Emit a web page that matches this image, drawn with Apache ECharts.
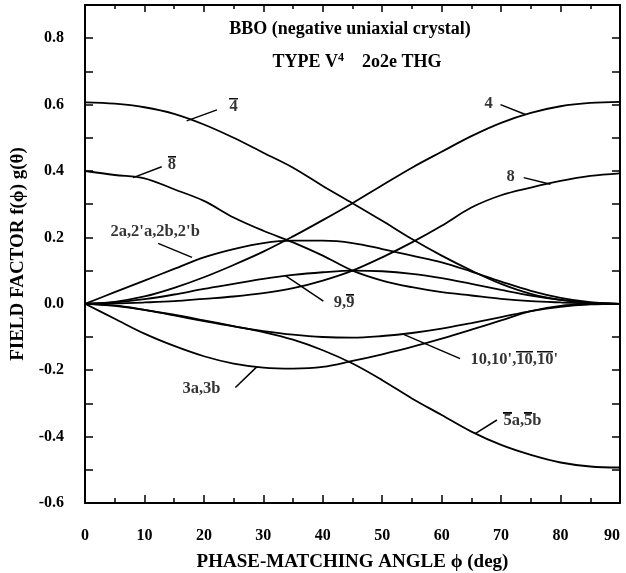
<!DOCTYPE html>
<html lang="en">
<head>
    <meta charset="UTF-8">
    <title>BBO field factor</title>
    <script src="https://cdn.jsdelivr.net/npm/echarts@6/dist/echarts.min.js"></script>
    <style>
        * {padding: 0; margin: 0;}
        body {background: #fff;}
        #main {width: 626px; height: 573px;}
    </style>
</head>
<body>
    <div id="main"></div>
    <script>
        const FONT = "'Liberation Serif', 'Times New Roman', serif";

        // phase-matching angle (deg)
        const phi = [0, 5, 10, 15, 20, 25, 30, 35, 40, 45, 50, 55, 60, 65, 70, 75, 80, 85, 90];

        // field factors
        const f4     = [0, 0.006, 0.022, 0.048, 0.08, 0.117, 0.157, 0.203, 0.252, 0.303, 0.357, 0.41, 0.458, 0.505, 0.545, 0.575, 0.595, 0.605, 0.608];
        const f4bar  = [0.607, 0.603, 0.592, 0.572, 0.54, 0.5, 0.455, 0.41, 0.355, 0.303, 0.25, 0.195, 0.145, 0.1, 0.06, 0.03, 0.012, 0.003, 0];
        const f8     = [0, 0.001, 0.004, 0.008, 0.015, 0.022, 0.032, 0.047, 0.07, 0.1, 0.14, 0.185, 0.235, 0.29, 0.327, 0.35, 0.37, 0.385, 0.393];
        const f8bar  = [0.4, 0.388, 0.378, 0.345, 0.31, 0.26, 0.22, 0.185, 0.145, 0.1, 0.07, 0.05, 0.035, 0.025, 0.015, 0.008, 0.004, 0.001, 0];
        const f2a    = [0, 0.035, 0.07, 0.105, 0.14, 0.165, 0.183, 0.19, 0.19, 0.183, 0.165, 0.145, 0.125, 0.097, 0.067, 0.039, 0.018, 0.005, 0];
        const f9     = [0, 0.004, 0.014, 0.028, 0.045, 0.06, 0.075, 0.087, 0.095, 0.1, 0.098, 0.09, 0.077, 0.06, 0.042, 0.025, 0.012, 0.003, 0];
        const f10    = [0, -0.006, -0.018, -0.035, -0.052, -0.068, -0.082, -0.093, -0.1, -0.102, -0.097, -0.088, -0.075, -0.058, -0.04, -0.022, -0.009, -0.002, 0];
        const f3a    = [0, -0.045, -0.09, -0.127, -0.158, -0.18, -0.192, -0.195, -0.19, -0.172, -0.152, -0.13, -0.105, -0.078, -0.05, -0.022, -0.006, -0.001, 0];
        const f5bar  = [0, -0.005, -0.018, -0.033, -0.05, -0.067, -0.085, -0.108, -0.14, -0.18, -0.23, -0.285, -0.335, -0.385, -0.425, -0.455, -0.478, -0.49, -0.493];

        const curves = [f4, f4bar, f8, f8bar, f2a, f9, f10, f3a, f5bar];

        // curve labels ({o|..} = overlined), label position, leader start (on curve), leader end
        const labelText = ['{o|4}', '{o|8}', '2a,2\'a,2b,2\'b', '4', '8', '9,{o|9}', '10,10\',{o|10},{o|10}\'', '3a,3b', '{o|5}a,{o|5}b'];
        const labelAt   = [[25, 0.595], [14.6, 0.42], [11.8, 0.218], [67.9, 0.604], [71.6, 0.383], [43.6, 0.004], [72.2, -0.167], [19.6, -0.255], [73.6, -0.352]];
        const leadFrom  = [[17.1, 0.551], [8.1, 0.38], [18, 0.14], [74.1, 0.57], [78.3, 0.36], [33.7, 0.085], [53.3, -0.09], [28.9, -0.19], [65.7, -0.39]];
        const leadTo    = [[22.2, 0.584], [12.9, 0.413], [12.3, 0.182], [69.9, 0.6], [73.8, 0.38], [40.1, 0.008], [63.1, -0.165], [25.3, -0.252], [69.3, -0.35]];

        // bar drawn above overlined characters (used as a stretched text background)
        const bar = document.createElement('canvas');
        bar.width = 8; bar.height = 19;
        const bctx = bar.getContext('2d');
        bctx.fillStyle = '#000';
        bctx.fillRect(0, 0, 8, 1.8);

        const chart = echarts.init(document.getElementById('main'));

        const labelFont = {fontFamily: FONT, fontWeight: 'bold', fontSize: 16.5, color: '#000', lineHeight: 19};

        const series = [];
        curves.forEach(function (c) {
            series.push({
                type: 'line',
                data: phi.map(function (p, i) { return [p, c[i]]; }),
                smooth: 0.35,
                showSymbol: false,
                silent: true,
                lineStyle: {color: '#000', width: 1.8}
            });
        });
        leadFrom.forEach(function (a, i) {
            series.push({
                type: 'line',
                data: [a, leadTo[i]],
                showSymbol: false,
                silent: true,
                lineStyle: {color: '#000', width: 1.5}
            });
        });
        series.push({
            type: 'scatter',
            symbolSize: 1,
            silent: true,
            itemStyle: {color: 'rgba(0,0,0,0)'},
            data: labelAt.map(function (p, i) { return {value: p, name: labelText[i]}; }),
            label: Object.assign({
                show: true,
                position: 'inside',
                formatter: '{b}',
                rich: {
                    o: Object.assign({backgroundColor: {image: bar}}, labelFont)
                }
            }, labelFont)
        });

        const tickStyle = {color: '#000', width: 1.5};
        const lineStyle = {color: '#000', width: 2};
        const tickFont = {fontFamily: FONT, fontWeight: 'bold', fontSize: 16, color: '#000'};
        const nameFont = {fontFamily: FONT, fontWeight: 'bold', fontSize: 19, color: '#000'};

        chart.setOption({
            animation: false,
            title: [{
                text: 'BBO (negative uniaxial crystal)',
                left: 345, top: 15, textAlign: 'center',
                textStyle: {fontFamily: FONT, fontWeight: 'bold', fontSize: 18, color: '#000'}
            }, {
                text: 'TYPE V{s|4}    2o2e THG',
                left: 352, top: 47, textAlign: 'center',
                textStyle: {
                    fontFamily: FONT, fontWeight: 'bold', fontSize: 18, color: '#000',
                    rich: {s: {fontFamily: FONT, fontWeight: 'bold', fontSize: 12, verticalAlign: 'top', padding: [0, 0, 8, 0]}}
                }
            }],
            grid: {left: 85, right: 6, top: 5, bottom: 70, containLabel: false, outerBoundsMode: 'none'},
            xAxis: [{
                type: 'value', min: 0, max: 90, interval: 10,
                name: 'PHASE-MATCHING ANGLE \u03d5 (deg)',
                nameLocation: 'middle', nameGap: 50,
                nameTextStyle: nameFont,
                axisLine: {onZero: false, lineStyle: lineStyle},
                axisTick: {inside: true, length: 8, lineStyle: tickStyle},
                minorTick: {show: true, splitNumber: 2, length: 5, lineStyle: tickStyle},
                splitLine: {show: false},
                axisLabel: Object.assign({margin: 25, alignMaxLabel: 'right'}, tickFont)
            }, {
                type: 'value', min: 0, max: 90, interval: 10, position: 'top',
                axisLine: {onZero: false, lineStyle: lineStyle},
                axisTick: {inside: true, length: 7, lineStyle: tickStyle},
                minorTick: {show: true, splitNumber: 2, length: 4, lineStyle: tickStyle},
                splitLine: {show: false},
                axisLabel: {show: false}
            }],
            yAxis: [{
                type: 'value', min: -0.6, max: 0.9, interval: 0.1,
                name: 'FIELD FACTOR f(\u03d5) g(\u03b8)',
                nameLocation: 'middle', nameGap: 52,
                nameTextStyle: nameFont,
                axisLine: {onZero: false, lineStyle: lineStyle},
                axisTick: {inside: true, length: 8, lineStyle: tickStyle},
                splitLine: {show: false},
                axisLabel: Object.assign({
                    margin: 21,
                    formatter: function (v) {
                        const k = Math.round(v * 10);
                        if (k % 2 !== 0 || k > 8) return '';
                        return (k / 10).toFixed(1);
                    }
                }, tickFont)
            }, {
                type: 'value', min: -0.6, max: 0.9, interval: 0.1, position: 'right',
                axisLine: {onZero: false, lineStyle: lineStyle},
                axisTick: {inside: true, length: 8, lineStyle: tickStyle},
                splitLine: {show: false},
                axisLabel: {show: false}
            }],
            series: series
        });
    </script>
</body>
</html>
